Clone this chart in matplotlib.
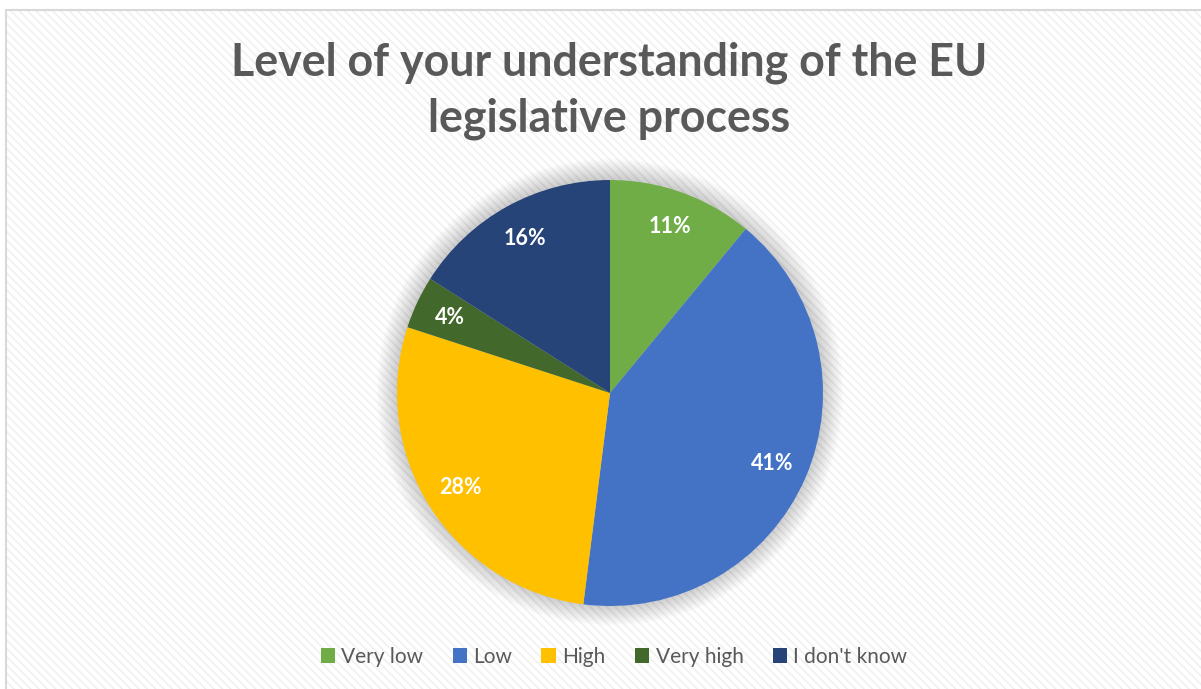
import matplotlib.pyplot as plt
from matplotlib.patches import Rectangle, Circle

plt.rcParams['font.family'] = ['Lato', 'DejaVu Sans']
plt.rcParams['hatch.linewidth'] = 1.2
plt.rcParams['hatch.color'] = '#f0f0f0'

labels = ['Very low', 'Low', 'High', 'Very high', "I don't know"]
shares = [11, 41, 28, 4, 16]
colors = ['#70AD47', '#4472C4', '#FFC000', '#43682B', '#264478']
title_lines = ['Level of your understanding of the EU', 'legislative process']

W, H = 1201, 689
fig = plt.figure(figsize=(W / 100, H / 100), dpi=100)
fig.patch.set_facecolor('white')

# striped chart-area background with a thin grey frame
bg = Rectangle((6 / W, -0.05), 1.1, 1 - 10 / H + 0.05, transform=fig.transFigure,
               facecolor='white', edgecolor='#f0f0f0', hatch='\\\\\\\\', lw=0, zorder=-2)
fig.patches.append(bg)
frame = Rectangle((6 / W, -0.05), 1.1, 1 - 10 / H + 0.05, transform=fig.transFigure,
                  facecolor='none', edgecolor='#d9d9d9', lw=1.5, zorder=-1)
fig.patches.append(frame)

for line, base in zip(title_lines, [76, 131]):
    fig.text(609 / W, 1 - base / H, line, ha='center', va='baseline', fontsize=32.2,
             fontweight='bold', color='#595959')

cx, cy, r = 610, 393, 213
ax = fig.add_axes([(cx - r) / W, (H - cy - r) / H, 2 * r / W, 2 * r / H])
ax.axis('off')

# soft shadow behind the pie
for k in range(16):
    ax.add_patch(Circle((0, 0.004), 1.0 + 0.006 * (k + 1), facecolor='black',
                        alpha=0.011, lw=0, zorder=0, clip_on=False))

wedges, texts, autotexts = ax.pie(
    shares, colors=colors, startangle=90, counterclock=False, radius=1,
    autopct=lambda p: f'{p:.0f}%', pctdistance=0.83,
    wedgeprops=dict(lw=0), textprops=dict(color='white', fontsize=15.5, fontweight='bold'))
for w in wedges:
    w.set_zorder(2)
for t in autotexts:
    t.set_zorder(3)
ax.set_xlim(-1, 1)
ax.set_ylim(-1, 1)

leg = fig.legend(wedges, labels, loc='center', bbox_to_anchor=(614 / W, 1 - 657 / H),
                 ncol=5, frameon=False, fontsize=15, handlelength=0.7, handleheight=0.7,
                 handletextpad=0.3, columnspacing=1.4)
for t in leg.get_texts():
    t.set_color('#595959')

fig.savefig('out.png', dpi=100)
